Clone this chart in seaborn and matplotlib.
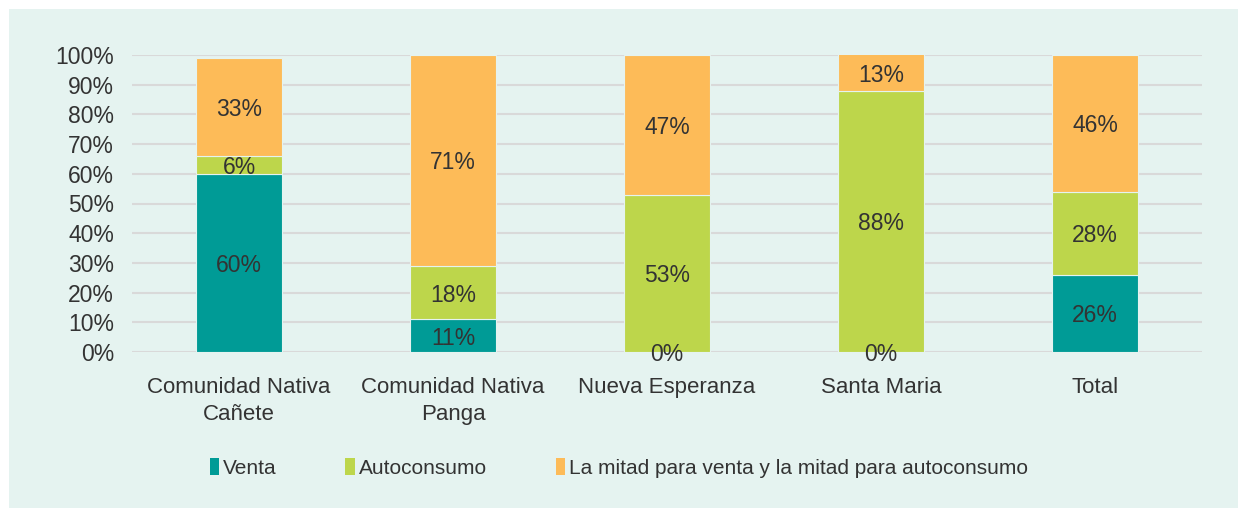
import matplotlib
matplotlib.use("Agg")
import matplotlib.pyplot as plt
import seaborn as sns
import pandas as pd
from matplotlib.patches import Rectangle, Patch

# Data (percent)
categorias = ["Comunidad Nativa\nCañete", "Comunidad Nativa\nPanga", "Nueva Esperanza", "Santa Maria", "Total"]
venta = [60, 11, 0, 0, 26]
autoconsumo = [6, 18, 53, 88, 28]
mitad = [33, 71, 47, 13, 46]
series = ["Venta", "Autoconsumo", "La mitad para venta y la mitad para autoconsumo"]
colores = ["#009B96", "#BDD64B", "#FDBB58"]

sns.set_theme(style="white")
plt.rcParams['font.family'] = ['Liberation Sans', 'DejaVu Sans']
txt = "#333333"

fig = plt.figure(figsize=(12.38, 5.08), dpi=100, facecolor="white")
fig.patches.append(Rectangle((9 / 1238, 0), 1, (508 - 9) / 508, transform=fig.transFigure,
                             facecolor="#E5F3F0", edgecolor="none", zorder=-1))
ax = fig.add_axes([132 / 1238, 156 / 508, 1070 / 1238, 297 / 508])
ax.set_zorder(2)
ax.set_facecolor("none")

df = pd.DataFrame({"cat": categorias, "Venta": venta, "Autoconsumo": autoconsumo, "Mitad": mitad})
bottom = [0] * len(categorias)
for col, name, c in zip(["Venta", "Autoconsumo", "Mitad"], series, colores):
    sns.barplot(data=df, x="cat", y=col, color=c, saturation=1, width=0.4, bottom=bottom, ax=ax,
                edgecolor="#E5F3F0", linewidth=0.8, zorder=3)
    for i, v in enumerate(df[col]):
        top = min(bottom[i] + v, 100)
        ypos = (bottom[i] + top) / 2 if v > 0 else 0
        ax.text(i, ypos, f"{v}%", ha="center", va="center_baseline", fontsize=16.5, color=txt, zorder=5)
    bottom = [b + v for b, v in zip(bottom, df[col])]

ax.set_ylim(0, 100)
ax.set_xlim(-0.5, 4.5)
ax.set_yticks(range(0, 101, 10))
ax.set_yticklabels([f"{t}%" for t in range(0, 101, 10)], fontsize=16.5, color=txt)
ax.set_xticks(range(len(categorias)))
ax.set_xticklabels(categorias, fontsize=16, color=txt, linespacing=1.4)
ax.tick_params(axis="y", length=0, pad=13)
ax.tick_params(axis="x", length=0, pad=18)
ax.set_xlabel("")
ax.set_ylabel("")
ax.grid(axis="y", color="#D9D9D9", linewidth=1.5, zorder=0)
ax.set_axisbelow(True)
for s in ax.spines.values():
    s.set_visible(False)

handles = [Patch(facecolor=c, edgecolor="none") for c in colores]
fig.legend(handles, series, loc="center", bbox_to_anchor=(0.5, 40 / 508), ncol=3, frameon=False,
           fontsize=15, handlelength=0.45, handleheight=0.85, handletextpad=0.2, columnspacing=3.3,
           labelcolor=txt)

fig.savefig("out.png", dpi=100, facecolor="white")
